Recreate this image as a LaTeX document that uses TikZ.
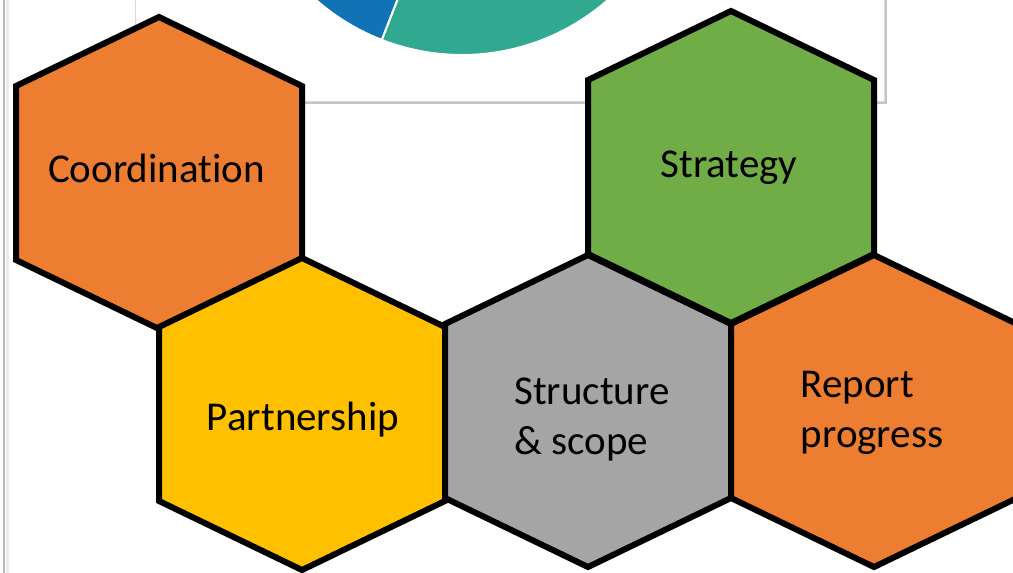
\documentclass[tikz,border=0pt]{standalone}
\usepackage{fontspec}
\setmainfont{Carlito}[Ligatures=NoCommon]
\usepackage{tikz}
\usetikzlibrary{calc}
\definecolor{hexOrange}{HTML}{ED7D31}
\definecolor{hexYellow}{HTML}{FFC000}
\definecolor{hexGray}{HTML}{A5A5A5}
\definecolor{hexGreen}{HTML}{70AD47}
\definecolor{pieBlue}{HTML}{1172B6}
\definecolor{pieTeal}{HTML}{31A890}
\tikzset{
  hexline/.style={draw=black, line width=6pt, line join=miter},
  hextext/.style={font=\fontsize{41}{50}\selectfont, align=left, inner sep=0pt}
}
\pgfkeys{
 /hexCell/.is family, /hexCell,
 fill/.estore in = \hcFill,
 name/.estore in = \hcName,
 dx/.estore in = \hcDX,
 dy/.estore in = \hcDY,
 default/.style =
  {fill=hexGray, name=defaultcell, dx=0, dy=0}
}
\newcommand{\hexCell}[3][]{
    \pgfkeys{/hexCell, default, #1}%
    \coordinate (\hcName) at #2;
    \draw[hexline, fill=\hcFill] ($(\hcName)+(0,-156)$) -- ($(\hcName)+(143,-87)$)
        -- ($(\hcName)+(143,87)$) -- ($(\hcName)+(0,156)$)
        -- ($(\hcName)+(-143,87)$) -- ($(\hcName)+(-143,-87)$) -- cycle;
    \node[hextext] (\hcName_txt) at ($(\hcName)+(\hcDX,\hcDY)$) {#3};
}
\begin{document}
\begin{tikzpicture}[x=1pt, y=-1pt]
    \useasboundingbox (0,0) rectangle (1013,573);
    \draw[gray!55, line width=2pt] (4,0) -- (4,573);
    \draw[gray!15, line width=3pt] (7,0) -- (7,573);
    % picture frame with the pie
    \fill[gray!45] (138,-5) rectangle (887,104);
    \draw[gray!30, fill=white] (135,-5) rectangle (884,101);
    \begin{scope}
        \clip (136,0) rectangle (883,100);
        \coordinate (pie) at (462,-166);
        \filldraw[fill=pieTeal, draw=white, line width=2pt] (pie) -- ++(-70:221) arc (-70:111.3:221) -- cycle;
        \filldraw[fill=pieBlue, draw=white, line width=2pt] (pie) -- ++(111.3:221) arc (111.3:200:221) -- cycle;
    \end{scope}
    \hexCell[name=coord, fill=hexOrange, dx=-2.5, dy=-5]{(159,173)}{Coordination}
    \hexCell[name=strat, fill=hexGreen, dx=-2, dy=1]{(731,167)}{Strategy}
    \hexCell[name=partner, fill=hexYellow, dx=1, dy=6]{(302,414)}{Partnership}
    \hexCell[name=struct, fill=hexGray, dx=4, dy=8]{(588,411)}{Structure\\\& scope}
    \hexCell[name=report, fill=hexOrange, dx=-2, dy=2]{(874,411)}{Report\\progress}
\end{tikzpicture}
\end{document}
